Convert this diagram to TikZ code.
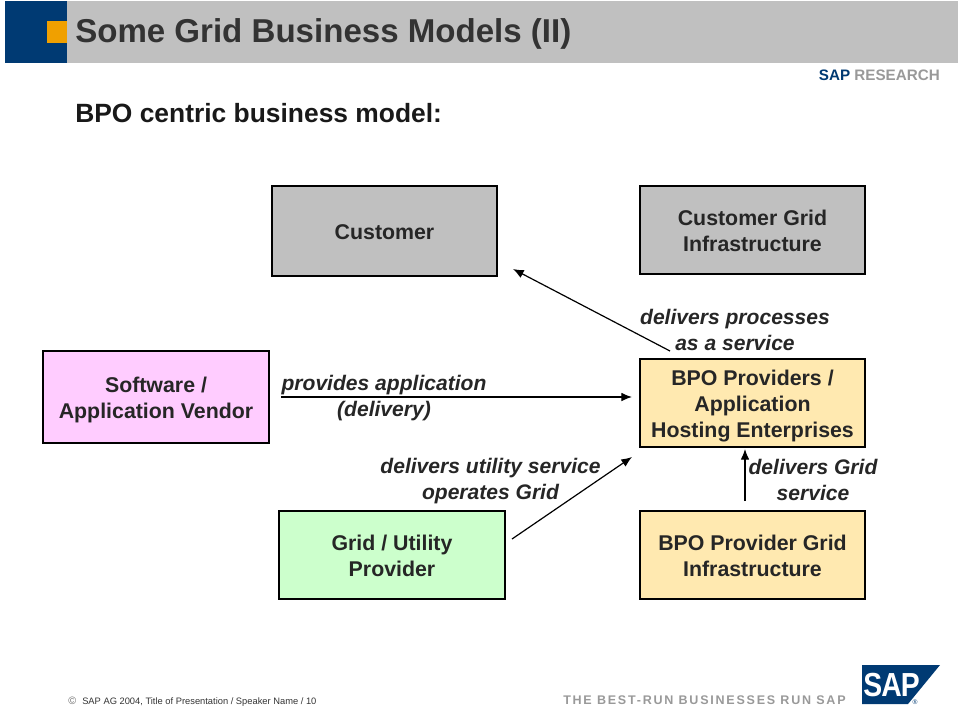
\documentclass[tikz,border=0pt]{standalone}
\usepackage{fontspec}
\setmainfont{Liberation Sans}
\usetikzlibrary{arrows.meta}
\definecolor{navy}{HTML}{003A73}
\definecolor{amber}{HTML}{F0A000}
\definecolor{headgray}{HTML}{C0C0C0}
\definecolor{titleink}{HTML}{333333}
\definecolor{boxgray}{HTML}{C0C0C0}
\definecolor{pinkfill}{HTML}{FFCCFF}
\definecolor{greenfill}{HTML}{CCFFCC}
\definecolor{tanfill}{HTML}{FFE9B0}
\definecolor{softgray}{HTML}{999999}
\tikzset{
  x=0.75pt,y=-0.75pt,
  bx/.style={draw=black,line width=0.9pt,inner sep=0pt},
  bxt/.style={inner sep=0pt,align=center,font=\fontsize{16}{19.5}\selectfont\bfseries,text=black!85},
  lbl/.style={align=center,inner sep=0pt,font=\fontsize{15.8}{19.5}\selectfont\bfseries\itshape,text=black!85},
  conn/.style={draw=black,line width=0.9pt,-{Latex[length=8pt,width=6.5pt]}}
}
% name, centre, width, height, text, fill, downward text offset
\newcommand{\boxat}[7]{%
  \node[bx,fill=#6,minimum width=#3*0.75pt,minimum height=#4*0.75pt] (#1) at (#2) {};
  \node[bxt,yshift=-#7*0.75pt] (#1t) at (#1.center) {#5};}
\begin{document}
\begin{tikzpicture}
\useasboundingbox (0,0) rectangle (960,708);
\fill[headgray] (5,1) rectangle (958,63);
\fill[navy] (5,1) rectangle (67,63);
\fill[amber] (47,21) rectangle (67,43);
\node[anchor=base west,inner sep=0pt,text=titleink,font=\fontsize{24.8}{27}\selectfont\bfseries] (title) at (75,42) {Some Grid Business Models (II)};
\node[anchor=base west,inner sep=0pt,text=black!90,font=\fontsize{19.8}{22}\selectfont\bfseries] (sub) at (75,122) {BPO centric business model:};
\node[anchor=base east,inner sep=0pt,font=\fontsize{11.4}{13}\selectfont\bfseries] (res) at (940,80) {\textcolor{navy}{SAP} \textcolor{softgray}{RESEARCH}};

\boxat{cust}{384.5,231}{225}{90}{Customer}{boxgray}{1}
\boxat{cgrid}{752.5,230}{225}{88}{Customer Grid\\Infrastructure}{boxgray}{1}
\boxat{vendor}{156,397}{226}{92}{Software /\\Application Vendor}{pinkfill}{3}
\boxat{bpo}{752.5,403}{225}{88}{BPO Providers /\\Application\\Hosting Enterprises}{tanfill}{3}
\boxat{util}{392,555}{226}{88}{Grid / Utility\\Provider}{greenfill}{1}
\boxat{bgrid}{752.5,555}{225}{88}{BPO Provider Grid\\Infrastructure}{tanfill}{1}

\node[lbl] (l1) at (735,330) {delivers processes\\as a service};
\node[lbl] (l2) at (384,398) {provides application\\(delivery)};
\node[lbl] (l3) at (490.5,481) {delivers utility service\\operates Grid};
\node[lbl] (l4) at (813,480) {delivers Grid\\service};

\coordinate (a1s) at (670,351); \coordinate (a1e) at (513,269);
\coordinate (a2s) at (281,397); \coordinate (a2e) at (632,397);
\coordinate (a3s) at (512,539); \coordinate (a3e) at (632,457);
\coordinate (a4s) at (745,501); \coordinate (a4e) at (745,449);
\draw[conn] (a1s) -- (a1e);
\draw[conn] (a2s) -- (a2e);
\draw[conn] (a3s) -- (a3e);
\draw[conn] (a4s) -- (a4e);

\node[anchor=base west,inner sep=0pt,text=softgray!70!black,font=\fontsize{8}{10}\selectfont] (copy) at (68,704) {©};
\node[anchor=base west,inner sep=0pt,text=black!80,font=\fontsize{7}{10}\selectfont] (foot) at (82,704) {SAP AG 2004, Title of Presentation / Speaker Name / 10};
\node[anchor=base west,inner sep=0pt,text=softgray,font=\fontsize{9.4}{10}\selectfont\bfseries] (tag) at (563,704) {\addfontfeature{LetterSpace=14}THE BEST-RUN BUSINESSES RUN SAP};
\fill[navy] (862,665) -- (940,665) -- (908,704) -- (862,704) -- cycle;
\node[anchor=base west,inner sep=0pt,text=white,font=\fontsize{25}{26}\selectfont\bfseries] (logo) at (863,696) {\scalebox{0.85}[1]{\addfontfeature{LetterSpace=-3}SAP}};
\node[inner sep=0pt,text=navy,font=\fontsize{5}{5}\selectfont] (reg) at (915,702) {®};
\end{tikzpicture}
\end{document}
